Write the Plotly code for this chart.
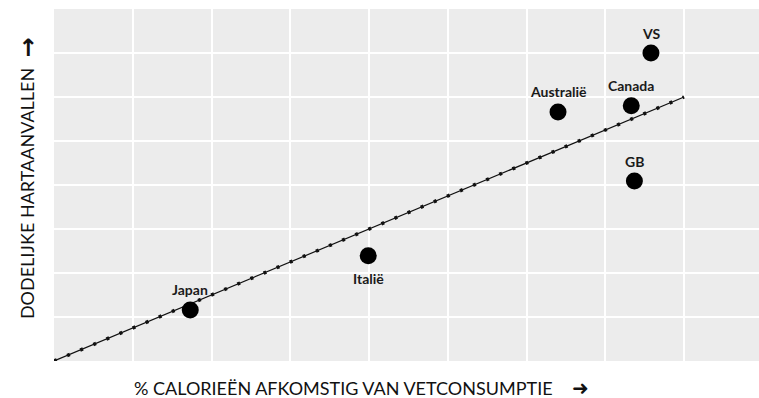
import plotly.graph_objects as go

# Data (grid units)
countries = ["Japan", "Italië", "Australië", "Canada", "VS", "GB"]
fat_share = [1.73, 3.99, 6.40, 7.33, 7.58, 7.37]
heart_deaths = [1.16, 2.39, 5.66, 5.80, 7.00, 4.09]
label_side = ["top", "bottom", "top", "top", "top", "top"]

trend_x = [0, 8]
trend_y = [0, 6]

x_title = "% CALORIEËN AFKOMSTIG VAN VETCONSUMPTIE"
y_title = "DODELIJKE HARTAANVALLEN"

FONT = "Lato"

fig = go.Figure()

# trend line (solid thin line)
fig.add_trace(go.Scatter(x=trend_x, y=trend_y, mode="lines",
                         line=dict(color="#111111", width=1.2),
                         hoverinfo="skip", showlegend=False))
# dots on trend line via dash pattern
fig.add_trace(go.Scatter(x=trend_x, y=trend_y, mode="lines",
                         line=dict(color="#111111", width=3.5, dash="3px,11.2px"),
                         hoverinfo="skip", showlegend=False))

fig.add_trace(go.Scatter(x=fat_share, y=heart_deaths, mode="markers",
                         marker=dict(color="#000000", size=17),
                         text=countries, hoverinfo="text", showlegend=False))

annotations = []
for c, x, y, side in zip(countries, fat_share, heart_deaths, label_side):
    annotations.append(dict(x=x, y=y, xref="x", yref="y", text=c, showarrow=False,
                            yshift=20 if side == "top" else -23,
                            font=dict(family=FONT, size=14, color="#1a1a1a", weight="bold"),
                            xanchor="center", yanchor="middle"))

annotations += [
    dict(x=0.41, y=-0.0767, xref="paper", yref="paper", text=x_title, showarrow=False,
         font=dict(family=FONT, size=18, color="#111111"), xanchor="center", yanchor="middle"),
    dict(x=0.7475, y=-0.077, xref="paper", yref="paper", text="<b>➜</b>", showarrow=False,
         font=dict(family="DejaVu Sans", size=20, color="#111111"), xanchor="center", yanchor="middle"),
    dict(x=-0.0383, y=0.477, xref="paper", yref="paper", text=y_title, showarrow=False,
         textangle=-90, font=dict(family=FONT, size=18, color="#111111"),
         xanchor="center", yanchor="middle"),
    dict(x=-0.0375, y=0.888, xref="paper", yref="paper", text="<b>↑</b>", showarrow=False,
         font=dict(family="DejaVu Sans", size=24, color="#111111"), xanchor="center", yanchor="middle"),
]

fig.update_layout(
    width=759, height=398,
    margin=dict(l=54, r=0, t=9, b=37),
    plot_bgcolor="#ececec", paper_bgcolor="#ffffff",
    xaxis=dict(range=[0, 8.952], dtick=1, tick0=0, showticklabels=False, ticks="",
               showgrid=True, gridcolor="#ffffff", gridwidth=2, zeroline=False, showline=False),
    yaxis=dict(range=[0, 8.0], dtick=1, tick0=0, showticklabels=False, ticks="",
               showgrid=True, gridcolor="#ffffff", gridwidth=2, zeroline=False, showline=False),
    annotations=annotations,
    showlegend=False,
)

fig.write_html("out.html", config={"displayModeBar": False},
               post_script="document.body.style.margin='0';")
